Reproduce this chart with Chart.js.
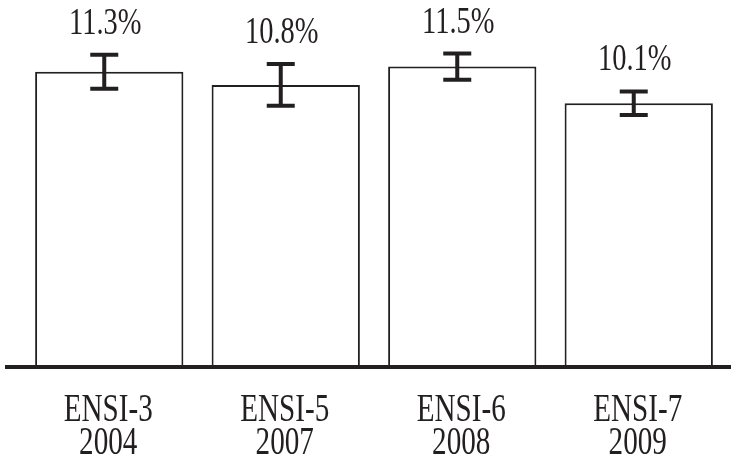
<!DOCTYPE html>
<html><head><meta charset="utf-8">
<script src="https://cdn.jsdelivr.net/npm/chart.js@4"></script>
<style>html,body{margin:0;padding:0;background:#fff;overflow:hidden}#wrap{width:731px;height:461px;position:relative}</style>
</head><body><div id="wrap"><canvas id="c"></canvas></div>
<script>
const surveys = ['ENSI-3', 'ENSI-5', 'ENSI-6', 'ENSI-7'];
const years = ['2004', '2007', '2008', '2009'];
const prevalence = [11.3, 10.8, 11.5, 10.1];
const errorMargin = [0.65, 0.8, 0.5, 0.45];
const valueLabels = ['11.3%', '10.8%', '11.5%', '10.1%'];

const INK = '#231f20';
const VALUE_FONT = '37px "Liberation Serif", "Times New Roman", serif';
const CAT_FONT = '39px "Liberation Serif", "Times New Roman", serif';

function squeezedText(ctx, text, x, y, sx) {
  ctx.save();
  ctx.translate(x, y);
  ctx.scale(sx, 1);
  ctx.fillText(text, 0, 0);
  ctx.restore();
}

const overlay = {
  id: 'overlay',
  afterDatasetsDraw(chart) {
    const ctx = chart.ctx;
    const xs = chart.scales.x, ys = chart.scales.y;
    const area = chart.chartArea;
    ctx.save();
    // baseline
    ctx.fillStyle = INK;
    ctx.fillRect(5, area.bottom - 2, chart.width - 5, 4);
    // error bars
    ctx.strokeStyle = INK;
    ctx.lineWidth = 4;
    ctx.lineCap = 'butt';
    ctx.textAlign = 'center';
    ctx.textBaseline = 'alphabetic';
    prevalence.forEach((v, i) => {
      const x = xs.getPixelForValue(i) - 5;
      const yTop = ys.getPixelForValue(v + errorMargin[i]);
      const yBot = ys.getPixelForValue(v - errorMargin[i]);
      ctx.beginPath();
      ctx.moveTo(x, yTop); ctx.lineTo(x, yBot);
      ctx.moveTo(x - 14, yTop); ctx.lineTo(x + 14, yTop);
      ctx.moveTo(x - 14, yBot); ctx.lineTo(x + 14, yBot);
      ctx.stroke();
      // value label
      ctx.fillStyle = INK;
      ctx.font = VALUE_FONT;
      squeezedText(ctx, valueLabels[i], x + 1, yTop - 21, 0.77);
      // category labels
      const cx = xs.getPixelForValue(i);
      ctx.font = CAT_FONT;
      squeezedText(ctx, surveys[i], cx - 1, area.bottom + 54, 0.747);
      squeezedText(ctx, years[i], cx - 1, area.bottom + 87, 0.747);
    });
    ctx.restore();
  }
};

new Chart(document.getElementById('c'), {
  type: 'bar',
  data: {
    labels: surveys.map((s, i) => [s, years[i]]),
    datasets: [{
      data: prevalence,
      backgroundColor: '#ffffff',
      borderColor: INK,
      borderWidth: 2,
      barPercentage: 0.84,
      categoryPercentage: 1.0
    }]
  },
  options: {
    responsive: true,
    maintainAspectRatio: false,
    animation: false,
    layout: { padding: { left: 21, right: 4, top: 0, bottom: 94 } },
    plugins: { legend: { display: false }, tooltip: { enabled: false } },
    scales: {
      x: { display: false, grid: { display: false } },
      y: { display: false, min: 0, max: 14.05, grid: { display: false } }
    }
  },
  plugins: [overlay]
});
</script>
</body></html>
